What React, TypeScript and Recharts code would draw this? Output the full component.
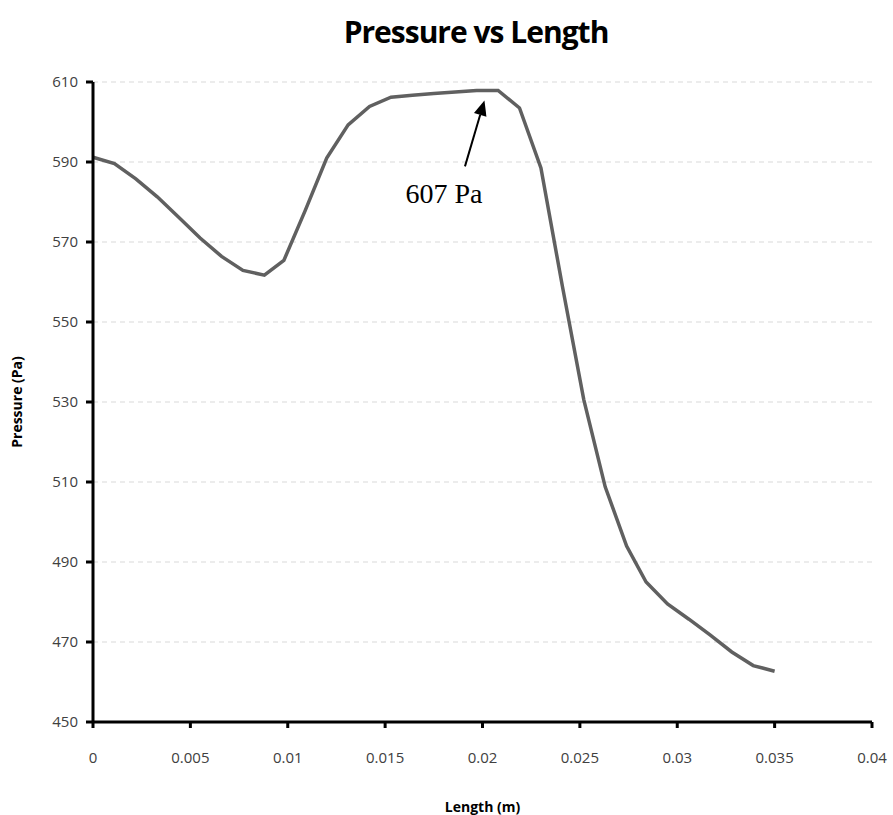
import { LineChart, Line, XAxis, YAxis, CartesianGrid, ReferenceLine, Label } from "recharts";

// values
const lengthM = [
  0, 0.0011, 0.0022, 0.0033, 0.0044, 0.0055, 0.0066, 0.0077, 0.0088, 0.0098, 0.0109,
  0.012, 0.0131, 0.0142, 0.0153, 0.0164, 0.0175, 0.0186, 0.0197, 0.0208, 0.0219,
  0.023, 0.0241, 0.0252, 0.0263, 0.0274, 0.0284, 0.0295, 0.0306, 0.0317, 0.0328,
  0.0339, 0.035,
];
const pressurePa = [
  591.2, 589.6, 585.8, 581.3, 576.2, 571, 566.4, 562.9, 561.7, 565.4, 577.9,
  591, 599.3, 603.9, 606.2, 606.7, 607.1, 607.5, 607.9, 607.9, 603.5,
  588.5, 559, 530.6, 508.8, 494, 485, 479.5, 475.7, 471.7, 467.5,
  464.1, 462.7,
];
const xTicks = [0, 0.005, 0.01, 0.015, 0.02, 0.025, 0.03, 0.035, 0.04];
const yTicks = [450, 470, 490, 510, 530, 550, 570, 590, 610];

// annotation: arrow from label up to the peak
const arrowFrom = { x: 0.0191, y: 588.9 };
const arrowTo = { x: 0.0201, y: 605.4 };
const peakLabel = "607 Pa";

const data = lengthM.map((x, i) => ({ x, p: pressurePa[i] }));

const tickFont = { fontFamily: "Open Sans, sans-serif", fontSize: 15, fill: "#404040" };

function Arrow(props: any) {
  const { x1, y1, x2, y2 } = props;
  const dx = x2 - x1;
  const dy = y2 - y1;
  const len = Math.sqrt(dx * dx + dy * dy);
  const ux = dx / len;
  const uy = dy / len;
  const headLen = 15;
  const headW = 6.5;
  const bx = x2 - ux * headLen;
  const by = y2 - uy * headLen;
  const pts = `${x2},${y2} ${bx - uy * headW},${by + ux * headW} ${bx + uy * headW},${by - ux * headW}`;
  return (
    <g>
      <line x1={x1} y1={y1} x2={bx} y2={by} stroke="#000" strokeWidth={2} />
      <polygon points={pts} fill="#000" />
      <text
        x={x1 - 21}
        y={y1 + 37}
        textAnchor="middle"
        fontFamily="Liberation Serif, Times New Roman, serif"
        fontSize={28}
        fill="#000"
      >
        {peakLabel}
      </text>
    </g>
  );
}

export default function App() {
  return (
    <div style={{ position: "absolute", left: 0, top: 0, width: 893, height: 815, background: "#fff" }}>
      <div
        style={{
          position: "absolute",
          left: 0,
          width: 952,
          top: 11,
          textAlign: "center",
          fontFamily: "Open Sans, sans-serif",
          fontWeight: 700,
          fontSize: 30,
          letterSpacing: -1,
          color: "#000",
        }}
      >
        Pressure vs Length
      </div>
      <LineChart width={893} height={815} data={data} margin={{ top: 82, right: 21, bottom: 53, left: 33 }}>
        <CartesianGrid vertical={false} stroke="#d9d9d9" strokeDasharray="5 4" />
        <XAxis
          dataKey="x"
          type="number"
          domain={[0, 0.04]}
          ticks={xTicks}
          interval={0}
          height={40}
          tick={tickFont}
          tickSize={6}
          tickMargin={24}
          axisLine={{ stroke: "#000", strokeWidth: 3 }}
          tickLine={{ stroke: "#000", strokeWidth: 3 }}
        >
          <Label
            value="Length (m)"
            position="bottom"
            offset={40}
            style={{ fontFamily: "Open Sans, sans-serif", fontSize: 14, fontWeight: 700, fill: "#000" }}
          />
        </XAxis>
        <YAxis
          type="number"
          domain={[450, 610]}
          ticks={yTicks}
          interval={0}
          width={60}
          tick={tickFont}
          tickSize={7}
          tickMargin={8}
          axisLine={{ stroke: "#000", strokeWidth: 3 }}
          tickLine={{ stroke: "#000", strokeWidth: 3 }}
        >
          <Label
            value="Pressure (Pa)"
            angle={-90}
            position="insideLeft"
            offset={-16}
            style={{ textAnchor: "middle", fontFamily: "Open Sans, sans-serif", fontSize: 14, fontWeight: 700, fill: "#000" }}
          />
        </YAxis>
        <Line
          dataKey="p"
          type="linear"
          stroke="#606060"
          strokeWidth={3.5}
          dot={false}
          isAnimationActive={false}
        />
        <ReferenceLine
          segment={[arrowFrom, arrowTo]}
          stroke="#000"
          ifOverflow="visible"
          shape={(props: any) => <Arrow {...props} />}
        />
      </LineChart>
    </div>
  );
}
